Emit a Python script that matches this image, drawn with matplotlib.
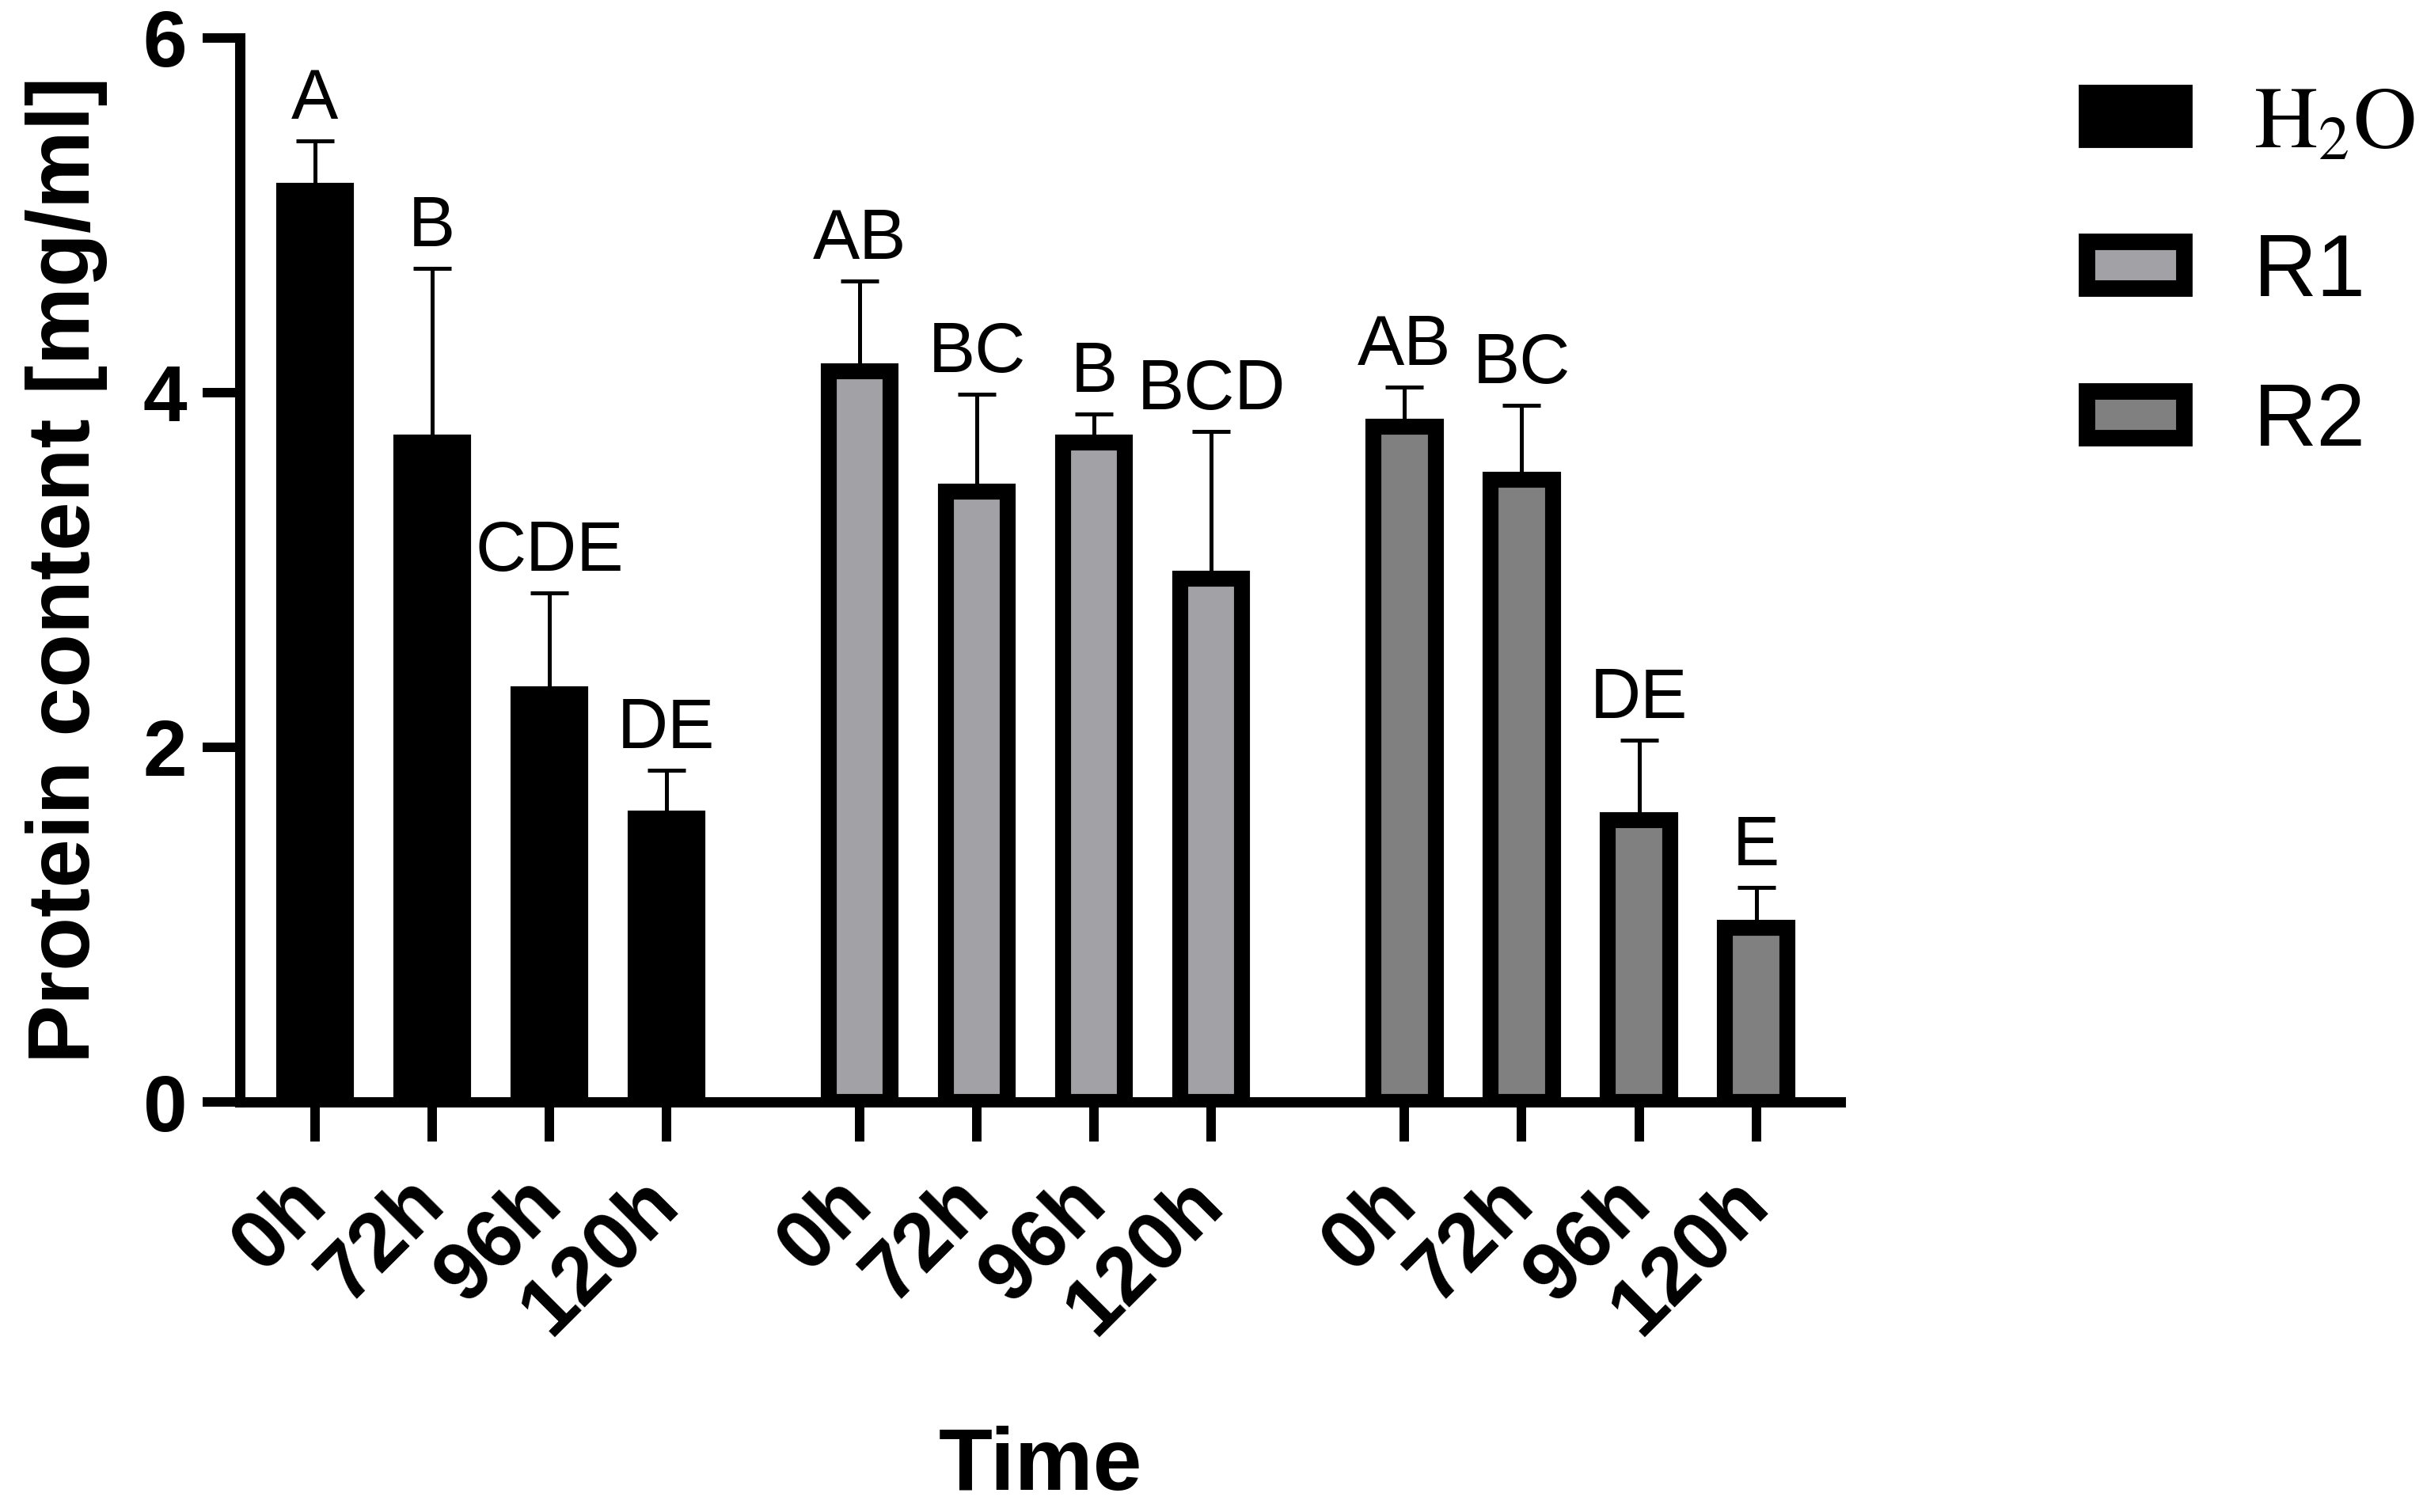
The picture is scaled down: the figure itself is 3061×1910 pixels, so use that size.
import numpy as np
import matplotlib
matplotlib.use('Agg')
import matplotlib.pyplot as plt
import matplotlib.transforms as mtransforms
from matplotlib.patches import Patch

plt.rcParams['font.family'] = 'Liberation Sans'
plt.rcParams['mathtext.fontset'] = 'stix'

# data
groups = [r'$\mathrm{H_2O}$', 'R1', 'R2']
times = ['0h', '72h', '96h', '120h']
h2o_mean = [5.14, 3.72, 2.30, 1.60]
h2o_sd = [0.28, 0.98, 0.57, 0.27]
r1_mean = [4.12, 3.44, 3.72, 2.95]
r1_sd = [0.51, 0.55, 0.16, 0.83]
r2_mean = [3.81, 3.51, 1.59, 0.98]
r2_sd = [0.22, 0.42, 0.45, 0.23]
h2o_letters = ['A', 'B', 'CDE', 'DE']
r1_letters = ['AB', 'BC', 'B', 'BCD']
r2_letters = ['AB', 'BC', 'DE', 'E']

colors = ['#000000', '#A2A2A6', '#808080']
means = [h2o_mean, r1_mean, r2_mean]
sds = [h2o_sd, r1_sd, r2_sd]
letters = [h2o_letters, r1_letters, r2_letters]

group_step = 4.65
bar_w = 0.53
edge_lw = 14.5

fig = plt.figure(figsize=(30.61, 19.10), dpi=100)
ax = fig.add_axes([0.099, 0.2712, 0.6606, 0.7037])

xticks = []
xlabels = []
for g in range(3):
    x = g * group_step + np.arange(len(times))
    ax.bar(x, means[g], width=bar_w, color=colors[g], edgecolor='black',
           linewidth=edge_lw, zorder=3)
    # upper error only, drawn behind the bar
    ax.errorbar(x, means[g], yerr=[np.zeros(len(times)), sds[g]], fmt='none',
                ecolor='black', elinewidth=3.6, capsize=17, capthick=3.6, zorder=2)
    for xi, m, s, lab in zip(x, means[g], sds[g], letters[g]):
        ax.annotate(lab, (xi, m + s), xytext=(0, 20), textcoords='offset points',
                    ha='center', va='baseline', fontsize=64)
    xticks += list(x)
    xlabels += times

ax.set_xlim(-0.64, 13.02)
ax.set_ylim(0, 6)
ax.set_yticks([0, 2, 4, 6])
ax.set_xticks(xticks)
ax.set_xticklabels(xlabels, rotation=45, ha='right', va='center',
                   rotation_mode='anchor', fontsize=74, fontweight='bold')
offset = mtransforms.ScaledTranslation(0.62, 0, fig.dpi_scale_trans)
for t in ax.get_xticklabels():
    t.set_transform(t.get_transform() + offset)
for t in ax.get_yticklabels():
    t.set_fontsize(72)
    t.set_fontweight('bold')

for side in ['top', 'right']:
    ax.spines[side].set_visible(False)
for side in ['left', 'bottom']:
    ax.spines[side].set_linewidth(9.4)
ax.tick_params(axis='y', length=34, width=8.6, pad=14)
ax.tick_params(axis='x', length=36, width=8.6, pad=45)

ax.set_ylabel('Protein content [mg/ml]', fontsize=80, fontweight='bold')
ax.yaxis.set_label_coords(-0.0826, 0.5)
ax.set_xlabel('Time', fontsize=80, fontweight='bold', va='baseline')
ax.xaxis.set_label_coords(0.5, -0.3649)

handles = [Patch(facecolor=c, edgecolor='black', linewidth=15) for c in colors]
leg = ax.legend(handles, groups, loc='upper left', bbox_to_anchor=(0.861, 0.945),
                bbox_transform=fig.transFigure, frameon=False, fontsize=80,
                handlelength=1.11, handleheight=0.44, handletextpad=0.79,
                labelspacing=0.76, borderpad=0, borderaxespad=0)

fig.savefig('out.png', dpi=100)
